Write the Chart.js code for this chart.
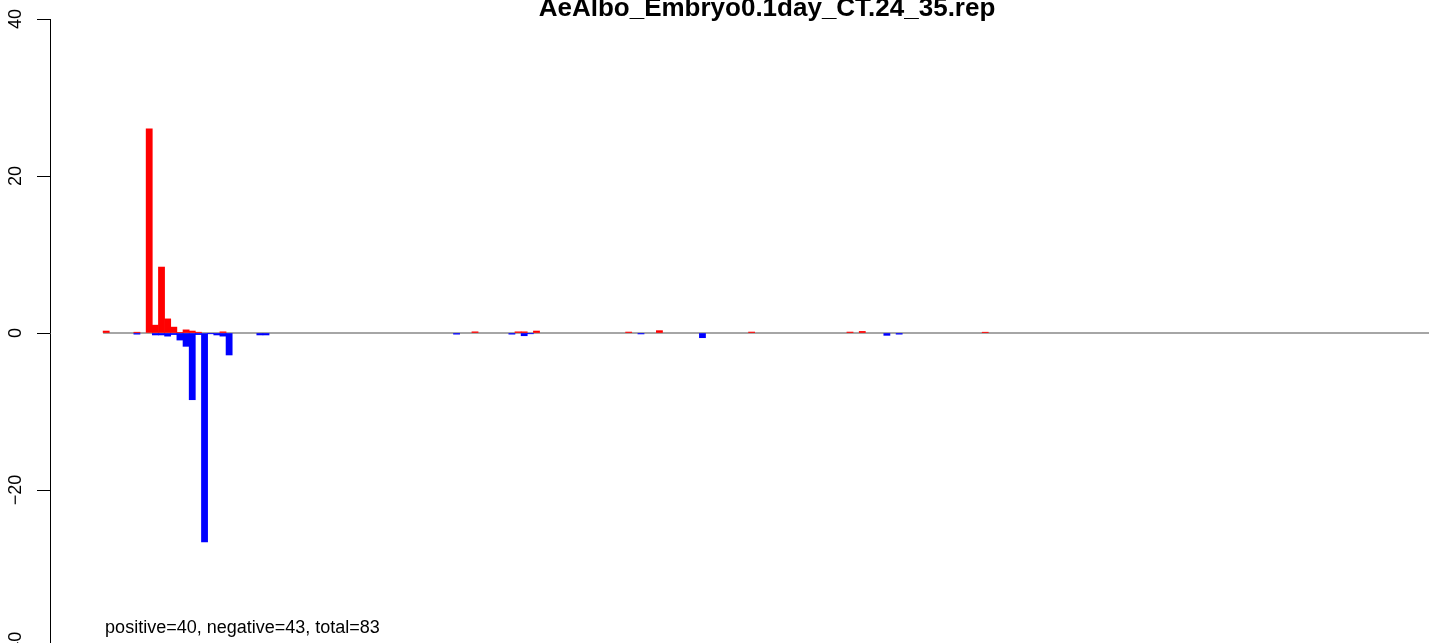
<!DOCTYPE html>
<html>
<head>
<meta charset="utf-8">
<script src="https://cdn.jsdelivr.net/npm/chart.js@4/dist/chart.umd.min.js"></script>
<style>
    html, body { margin: 0; padding: 0; background: #fff; overflow: hidden; width: 1429px; height: 643px; }
    canvas { display: block; }
</style>
</head>
<body>
<canvas id="chart" width="1484" height="700" style="width:1484px;height:700px"></canvas>
<script>
    "use strict";

    const TITLE = "AeAlbo_Embryo0.1day_CT.24_35.rep";
    const NOTE = "positive=40, negative=43, total=83";
    const BAR_COUNT = 216;
    const yTicks = [-40, -20, 0, 20, 40];

    // bar index -> value (all other bars are zero)
    const posIndex = [0, 5, 7, 8, 9, 10, 11, 12, 13, 14, 15, 19, 60, 67, 68, 70, 85, 90, 105, 121, 123, 143];
    const posValue = [0.25, 0.1, 26.0, 1.0, 8.4, 1.8, 0.75, 0.05, 0.4, 0.25, 0.1, 0.15, 0.15, 0.15, 0.15, 0.25, 0.12, 0.3, 0.12, 0.12, 0.2, 0.1];
    const negIndex = [5, 8, 9, 10, 11, 12, 13, 14, 15, 16, 17, 18, 19, 20, 25, 26, 57, 66, 68, 69, 87, 97, 127, 129];
    const negValue = [-0.15, -0.25, -0.25, -0.4, -0.2, -0.9, -1.7, -8.5, -0.2, -26.6, -0.1, -0.25, -0.4, -2.8, -0.25, -0.25, -0.15, -0.15, -0.35, -0.1, -0.12, -0.6, -0.3, -0.15];

    const FONT = '"Liberation Sans", Arial, Helvetica, sans-serif';

    function series(index, value) {
        const out = [];
        for (let i = 0; i < BAR_COUNT; i++) out.push({ x: i + 0.5, y: null });
        index.forEach((idx, k) => { out[idx].y = value[k]; });
        return out;
    }

    const textPlugin = {
        id: "rtext",
        afterDraw(chart) {
            const { ctx, chartArea } = chart;
            ctx.save();
            ctx.fillStyle = "#000";
            ctx.textBaseline = "alphabetic";
            ctx.font = "bold 26px " + FONT;
            ctx.textAlign = "center";
            ctx.fillText(TITLE, (chartArea.left + chartArea.right) / 2, 16);
            ctx.font = "18px " + FONT;
            ctx.textAlign = "left";
            ctx.fillText(NOTE, chart.scales.x.getPixelForValue(0) + 2, 633);
            ctx.restore();
        }
    };

    new Chart(document.getElementById("chart"), {
        type: "bar",
        data: {
            datasets: [
                {
                    type: "line",
                    data: [{ x: 0, y: 0 }, { x: BAR_COUNT, y: 0 }],
                    borderColor: "#a6a6a6",
                    borderWidth: 2,
                    pointRadius: 0,
                    order: 2
                },
                {
                    data: series(posIndex, posValue),
                    backgroundColor: "#ff0000",
                    borderWidth: 0,
                    barPercentage: 1,
                    categoryPercentage: 1,
                    grouped: false,
                    order: 0
                },
                {
                    data: series(negIndex, negValue),
                    backgroundColor: "#0000ff",
                    borderWidth: 0,
                    barPercentage: 1,
                    categoryPercentage: 1,
                    grouped: false,
                    order: 0
                }
            ]
        },
        options: {
            responsive: false,
            animation: false,
            events: [],
            layout: { padding: { top: 19, bottom: 53, left: 0, right: 0 } },
            plugins: { legend: { display: false }, tooltip: { enabled: false }, title: { display: false } },
            scales: {
                x: {
                    type: "linear",
                    offset: false,
                    min: -0.04 * BAR_COUNT,
                    max: BAR_COUNT * 1.04,
                    display: false
                },
                y: {
                    type: "linear",
                    min: -40,
                    max: 40,
                    afterFit(scale) { scale.width = 50; },
                    afterBuildTicks(scale) { scale.ticks = yTicks.map(v => ({ value: v })); },
                    grid: { drawOnChartArea: false, drawTicks: true, tickLength: 13, color: "#000", lineWidth: 1 },
                    border: { display: true, color: "#000", width: 1 },
                    ticks: {
                        autoSkip: false,
                        minRotation: 90,
                        maxRotation: 90,
                        crossAlign: "center",
                        padding: 6,
                        color: "#000",
                        font: { family: FONT, size: 18 },
                        callback: v => String(v).replace("-", "\u2212")
                    }
                }
            }
        },
        plugins: [textPlugin]
    });
</script>
</body>
</html>
